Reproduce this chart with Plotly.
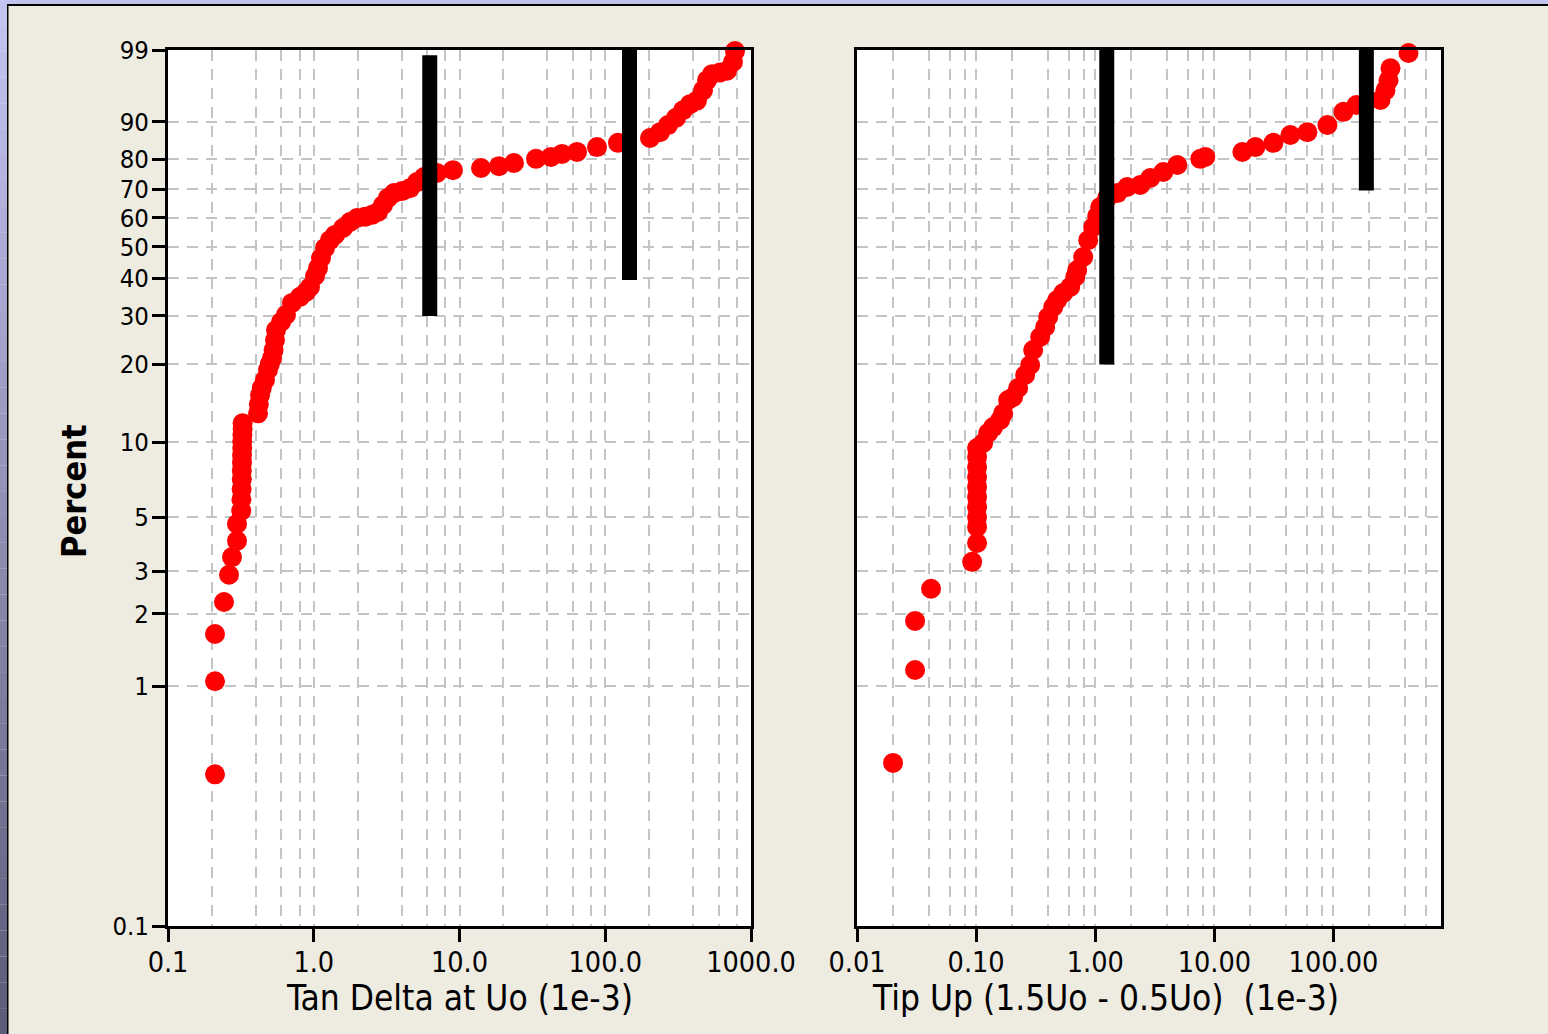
import numpy as np
import plotly.graph_objects as go

# ---- Tan Delta at Uo (1e-3): sorted values and cumulative percent ----
tan_delta = [0.2102, 0.2102, 0.2102, 0.2422, 0.2622, 0.2749, 0.2974, 0.2974,
             0.318, 0.319, 0.320, 0.321, 0.321, 0.322, 0.322, 0.323, 0.323, 0.324, 0.325, 0.325,
             0.4146, 0.420, 0.4277, 0.440, 0.4628, 0.4855, 0.500, 0.5172, 0.530, 0.5422,
             0.5508, 0.5961, 0.6450, 0.7091, 0.8049, 0.8848, 0.9426, 1.020, 1.070, 1.121,
             1.195, 1.292, 1.399, 1.588, 1.773, 1.981, 2.247, 2.510, 2.759, 2.987,
             3.231, 3.553, 4.032, 4.575, 5.110, 5.706, 6.30, 7.00, 9.02, 14.05,
             18.67, 23.65, 33.49, 42.45, 50.5, 64.0, 87.8, 122.3, 202.8, 237.5,
             269.5, 305.8, 341.6, 381.5, 426.1, 468.5, 499.0, 540.0, 612.8, 684.5,
             752.5, 776.8]
tan_delta_pct = [0.43, 1.05, 1.65, 2.24, 2.9, 3.43, 4.0, 4.69,
                 5.3, 5.9, 6.5, 7.1, 7.7, 8.3, 8.9, 9.5, 10.1, 10.7, 11.3, 11.9,
                 13.0, 14.1, 15.3, 16.3, 17.5, 19.1, 20.1, 21.1, 22.6, 24.6,
                 26.7, 28.5, 30.2, 33.2, 34.8, 36.1, 37.5, 40.7, 43.1, 46.3,
                 49.6, 52.2, 54.0, 56.4, 58.5, 59.9, 60.3, 61.0, 62.0, 64.5,
                 67.0, 68.7, 69.4, 70.4, 72.5, 74.2, 74.9, 75.6, 76.5, 77.2,
                 77.8, 78.8, 80.1, 80.7, 81.6, 82.2, 83.6, 84.8, 86.1, 87.6,
                 89.3, 90.9, 92.4, 93.5, 94.1, 95.6, 96.8, 97.4, 97.55, 97.7,
                 98.35, 98.95]

# ---- Tip Up (1.5Uo - 0.5Uo) (1e-3): sorted values and cumulative percent ----
tip_up = [0.02007, 0.03072, 0.03072, 0.04185, 0.0926, 0.1019,
          0.1019, 0.1019, 0.1019, 0.1019, 0.1019, 0.1019, 0.1019, 0.1019, 0.1019,
          0.1145, 0.1262, 0.1390, 0.1591, 0.1686, 0.1857, 0.2046, 0.2254, 0.2581, 0.2843,
          0.3013, 0.3450, 0.3800, 0.4027, 0.4437, 0.4794, 0.5383, 0.6165, 0.6791, 0.7059,
          0.7926, 0.8734, 0.9621, 1.039, 1.102, 1.261, 1.531, 1.857, 2.389, 2.899,
          3.727, 4.889, 7.627, 8.403, 17.19, 22.11, 31.33, 43.52, 60.45, 89.05,
          121.3, 156.1, 189.3, 248.3, 273.5, 290.0, 301.3, 426.9]
tip_up_pct = [0.48, 1.17, 1.87, 2.54, 3.28, 3.92,
              4.56, 5.0, 5.5, 6.04, 6.63, 7.27, 7.97, 8.75, 9.5,
              9.94, 10.89, 11.49, 12.25, 13.0, 14.65, 15.04, 16.29, 18.25, 19.89,
              22.62, 25.22, 27.38, 29.68, 32.15, 33.95, 35.84, 37.5, 40.41, 42.52,
              46.61, 52.2, 56.74, 60.59, 63.78, 67.0, 68.7, 70.81, 71.5, 73.88,
              75.89, 78.16, 80.1, 80.7, 82.18, 83.6, 84.8, 86.9, 87.6, 89.32,
              92.1, 93.36, 93.9, 94.19, 95.6, 96.8, 97.9, 98.86]

# ---- vertical limit bars: value, lower %, upper % ----
tan_delta_limits = [6.25, 146.7]
tan_delta_limit_low = [29.9, 39.5]
tan_delta_limit_high = [98.75, 99.0]
tip_up_limits = [1.25, 189.0]
tip_up_limit_low = [20.0, 69.6]
tip_up_limit_high = [99.0, 99.0]

# ---- axis ticks ----
pct_ticks = [0.1, 1, 2, 3, 5, 10, 20, 30, 40, 50, 60, 70, 80, 90, 99]
pct_labels = ["0.1", "1", "2", "3", "5", "10", "20", "30", "40", "50",
              "60", "70", "80", "90", "99"]
tan_ticks = [0.1, 1, 10, 100, 1000]
tan_labels = ["0.1", "1.0", "10.0", "100.0", "1000.0"]
tip_ticks = [0.01, 0.1, 1, 10, 100]
tip_labels = ["0.01", "0.10", "1.00", "10.00", "100.00"]


def weibit(p):
    """Weibull probability scale: ln(-ln(1 - p))."""
    p = np.asarray(p, dtype=float) / 100.0
    return np.log(-np.log(1.0 - p))


W, H = 1548, 1034
FONT = "DejaVu Sans Condensed, DejaVu Sans, sans-serif"
GRID = "#C4C4C4"
BG = "#EEEBE1"


def px(x):
    return x / W


def py(y):
    return 1 - y / H


fig = go.Figure()

# data points
fig.add_trace(go.Scatter(x=tan_delta, y=weibit(tan_delta_pct), mode="markers",
                         marker=dict(size=20, color="#FF0000", line=dict(width=0)),
                         cliponaxis=False, xaxis="x", yaxis="y"))
fig.add_trace(go.Scatter(x=tip_up, y=weibit(tip_up_pct), mode="markers",
                         marker=dict(size=20, color="#FF0000", line=dict(width=0)),
                         cliponaxis=False, xaxis="x2", yaxis="y2"))

# limit bars
for v, lo, hi in zip(tan_delta_limits, tan_delta_limit_low, tan_delta_limit_high):
    fig.add_trace(go.Scatter(x=[v, v], y=weibit([lo, hi]), mode="lines",
                             line=dict(color="black", width=15),
                             xaxis="x", yaxis="y"))
for v, lo, hi in zip(tip_up_limits, tip_up_limit_low, tip_up_limit_high):
    fig.add_trace(go.Scatter(x=[v, v], y=weibit([lo, hi]), mode="lines",
                             line=dict(color="black", width=15),
                             xaxis="x2", yaxis="y2"))


def minor_vals(lo_exp, hi_exp):
    vals = []
    for e in range(lo_exp, hi_exp):
        for m in (2, 4, 6, 8):
            vals.append(m * 10.0 ** e)
    return vals


yr = [float(weibit(0.1)), float(weibit(99))]
common_x = dict(type="log", showline=True, mirror=True, linecolor="black", linewidth=3,
                ticks="outside", ticklen=13, tickwidth=3, tickcolor="black",
                tickmode="array", showgrid=True, gridcolor=GRID, gridwidth=2,
                griddash="11px,8px", zeroline=False, automargin=False,
                ticklabelstandoff=-4,
                tickfont=dict(family=FONT, size=28.5, color="black"))
common_y = dict(range=yr, showline=True, mirror=True, linecolor="black", linewidth=3,
                tickmode="array", tickvals=list(weibit(pct_ticks)),
                showgrid=True, gridcolor=GRID, gridwidth=2, automargin=False,
                griddash="11px,8px", zeroline=False)

fig.update_layout(
    width=W, height=H,
    margin=dict(l=0, r=0, t=0, b=0, pad=0, autoexpand=False),
    paper_bgcolor=BG, plot_bgcolor="white", showlegend=False,
    xaxis=dict(common_x, domain=[px(168), px(751)], range=[-1, 3], anchor="y",
               tickvals=tan_ticks, ticktext=tan_labels,
               minor=dict(tickmode="array", tickvals=minor_vals(-1, 3), showgrid=True,
                          gridcolor=GRID, gridwidth=2, griddash="11px,8px", ticks="")),
    xaxis2=dict(common_x, domain=[px(857), px(1441)], range=[-2, float(np.log10(800))],
                anchor="y2", tickvals=tip_ticks, ticktext=tip_labels,
                minor=dict(tickmode="array", tickvals=minor_vals(-2, 3), showgrid=True,
                           gridcolor=GRID, gridwidth=2, griddash="11px,8px", ticks="")),
    yaxis=dict(common_y, domain=[py(926), py(50)], anchor="x",
               ticktext=pct_labels, ticks="outside", ticklen=13, tickwidth=3,
               tickcolor="black", ticklabelstandoff=-2,
               tickfont=dict(family=FONT, size=25.5, color="black")),
    yaxis2=dict(common_y, domain=[py(926), py(50)], anchor="x2",
                ticktext=[""] * len(pct_ticks), ticks="", showticklabels=False),
)

# axis titles
fig.add_annotation(text="<b>Percent</b>", x=px(74), y=py(491), xref="paper", yref="paper",
                   textangle=-90, showarrow=False, xanchor="center", yanchor="middle",
                   font=dict(family=FONT, size=34, color="black"))
fig.add_annotation(text="Tan Delta at Uo (1e-3)", x=px(459.5), y=py(998), xref="paper",
                   yref="paper", showarrow=False, xanchor="center", yanchor="middle",
                   font=dict(family=FONT, size=35, color="black"))
fig.add_annotation(text="Tip Up (1.5Uo - 0.5Uo)\u00a0\u00a0(1e-3)", x=px(1105), y=py(998),
                   xref="paper", yref="paper", showarrow=False, xanchor="center",
                   yanchor="middle", font=dict(family=FONT, size=35, color="black"))

# window frame: lavender top band and shaded left band with dark edges
shapes = [
    dict(type="rect", xref="paper", yref="paper", x0=0, x1=1, y0=py(4), y1=1,
         fillcolor="#C3C3F0", line=dict(width=0), layer="above"),
    dict(type="rect", xref="paper", yref="paper", x0=px(7), x1=1, y0=py(6), y1=py(4),
         fillcolor="black", line=dict(width=0), layer="above"),
]
steps = 40
top_c = np.array([196, 196, 242])
bot_c = np.array([92, 92, 122])
for i in range(steps):
    t = i / (steps - 1)
    c = (top_c * (1 - t) + bot_c * t).astype(int)
    shapes.append(dict(type="rect", xref="paper", yref="paper", x0=0, x1=px(7),
                       y0=1 - (i + 1) / steps, y1=1 - i / steps,
                       fillcolor=f"rgb({c[0]},{c[1]},{c[2]})", line=dict(width=0),
                       layer="above"))
shapes.append(dict(type="rect", xref="paper", yref="paper", x0=px(7), x1=px(8.5),
                   y0=0, y1=py(4), fillcolor="black", line=dict(width=0), layer="above"))
fig.update_layout(shapes=shapes)

fig.write_html("out.html")
